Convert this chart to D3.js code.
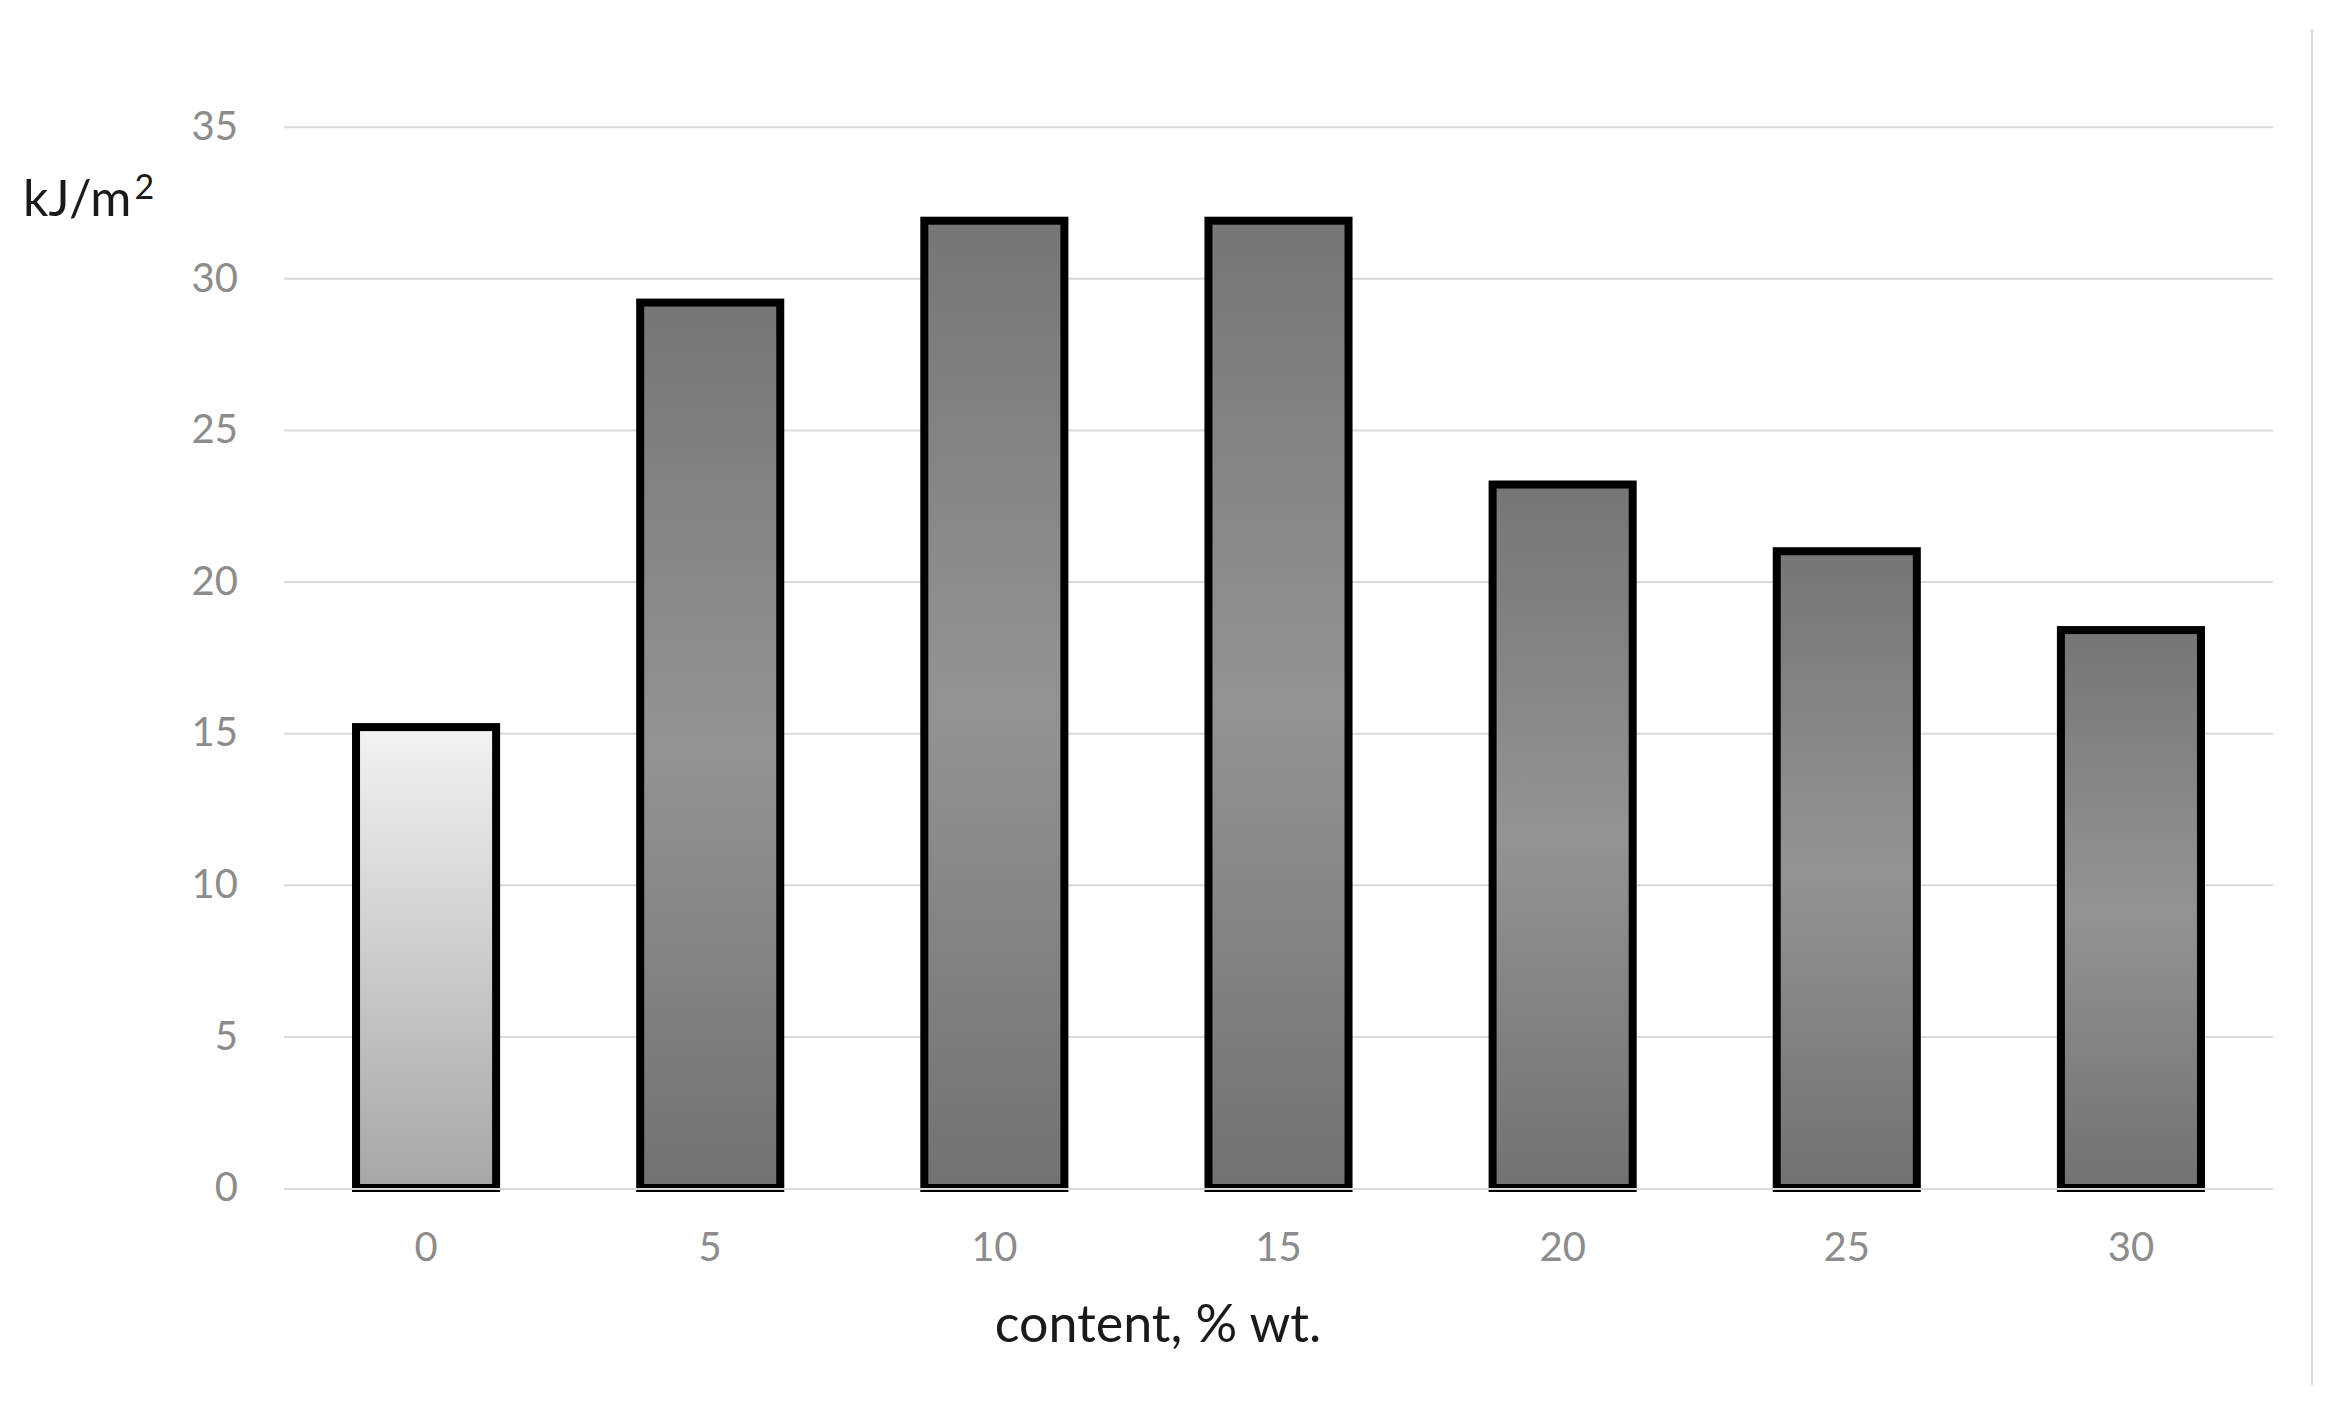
<!DOCTYPE html>
<html>
<head>
<meta charset="utf-8">
<script src="https://cdn.jsdelivr.net/npm/d3@7"></script>
<style>
  body { margin: 0; background: #fff; }
  text { font-family: Lato, "Open Sans", sans-serif; }
</style>
</head>
<body>
<div id="chart"></div>
<script>
// impact strength vs content
const categories = ['0', '5', '10', '15', '20', '25', '30'];
const values = [15.2, 29.2, 31.9, 31.9, 23.2, 21.0, 18.4];
const yTicks = [0, 5, 10, 15, 20, 25, 30, 35];
const yLabel = ['kJ/m', '2'];
const xLabel = 'content, % wt.';

const W = 2328, H = 1408;
const plotLeft = 284, plotRight = 2273, plotTop = 126.7, plotBottom = 1188;

const svg = d3.select('#chart')
  .append('svg')
  .attr('width', W)
  .attr('height', H);

const defs = svg.append('defs');
const gDark = defs.append('linearGradient')
  .attr('id', 'gradDark')
  .attr('x1', 0).attr('y1', 0).attr('x2', 0).attr('y2', 1);
gDark.append('stop').attr('offset', '0%').attr('stop-color', '#767676');
gDark.append('stop').attr('offset', '50%').attr('stop-color', '#939393');
gDark.append('stop').attr('offset', '100%').attr('stop-color', '#727272');

const gLight = defs.append('linearGradient')
  .attr('id', 'gradLight')
  .attr('x1', 0).attr('y1', 0).attr('x2', 0).attr('y2', 1);
gLight.append('stop').attr('offset', '0%').attr('stop-color', '#f2f2f2');
gLight.append('stop').attr('offset', '100%').attr('stop-color', '#a6a6a6');

const x = d3.scaleBand()
  .domain(categories)
  .range([plotLeft, plotRight])
  .paddingInner(0.507)
  .paddingOuter(0.2535);

const y = d3.scaleLinear()
  .domain([0, 35])
  .range([plotBottom, plotTop]);

// gridlines
const grid = svg.append('g')
  .attr('transform', `translate(${plotLeft},0)`)
  .call(d3.axisLeft(y).tickValues(yTicks.slice(1)).tickSize(-(plotRight - plotLeft)).tickFormat(''));
grid.select('.domain').remove();
grid.selectAll('line').attr('stroke', '#d9d9d9').attr('stroke-width', 2);

// chart border on the right
svg.append('line')
  .attr('x1', 2312).attr('x2', 2312)
  .attr('y1', 29).attr('y2', 1385)
  .attr('stroke', '#d9d9d9')
  .attr('stroke-width', 2);

// bars
svg.selectAll('.bar')
  .data(values)
  .enter()
  .append('rect')
  .attr('class', 'bar')
  .attr('x', (d, i) => x(categories[i]))
  .attr('y', d => y(d))
  .attr('width', x.bandwidth())
  .attr('height', d => y(0) - y(d))
  .attr('fill', (d, i) => i === 0 ? 'url(#gradLight)' : 'url(#gradDark)')
  .attr('stroke', '#000')
  .attr('stroke-width', 8);

// category axis line drawn over the bars
svg.append('line')
  .attr('x1', plotLeft).attr('x2', plotRight)
  .attr('y1', y(0) + 1).attr('y2', y(0) + 1)
  .attr('stroke', '#d9d9d9')
  .attr('stroke-width', 2);

// y tick labels
const yAxis = svg.append('g')
  .attr('transform', `translate(${plotLeft},0)`)
  .call(d3.axisLeft(y).tickValues(yTicks).tickSize(0).tickPadding(46));
yAxis.select('.domain').remove();
yAxis.selectAll('text')
  .style('font-family', 'Lato, sans-serif')
  .style('font-size', '40px')
  .attr('fill', '#8c8c8c');

// x tick labels
const xAxis = svg.append('g')
  .attr('transform', `translate(0,${y(0)})`)
  .call(d3.axisBottom(x).tickSize(0).tickPadding(45));
xAxis.select('.domain').remove();
xAxis.selectAll('text')
  .style('font-family', 'Lato, sans-serif')
  .style('font-size', '40px')
  .attr('fill', '#8c8c8c');

// axis titles
const yt = svg.append('text')
  .attr('x', 23)
  .attr('y', 216)
  .style('font-size', '50px')
  .attr('fill', '#1a1a1a');
yt.append('tspan').text(yLabel[0]);
yt.append('tspan')
  .attr('dx', 3)
  .attr('dy', -17)
  .style('font-size', '34px')
  .text(yLabel[1]);

svg.append('text')
  .attr('x', 1158)
  .attr('y', 1342)
  .attr('text-anchor', 'middle')
  .style('font-size', '52px')
  .attr('fill', '#1a1a1a')
  .text(xLabel);
</script>
</body>
</html>
